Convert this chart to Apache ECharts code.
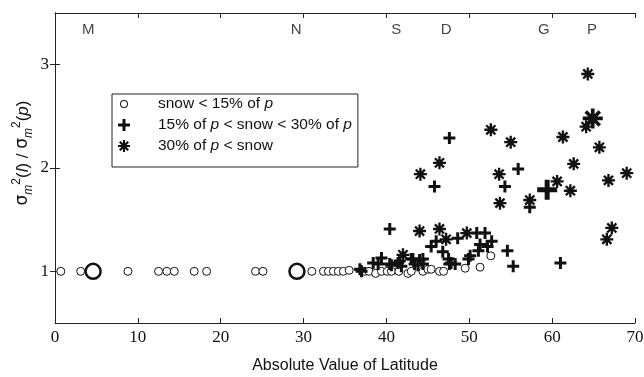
<!DOCTYPE html>
<html>
<head>
<meta charset="utf-8">
<script src="https://cdn.jsdelivr.net/npm/echarts@6/dist/echarts.min.js"></script>
<style>
  html, body { margin: 0; padding: 0; background: #fff; }
  #chart { width: 644px; height: 377px; }
</style>
</head>
<body>
<div id="chart"></div>
<script>
// site labels along the top
var siteNames = ['M', 'N', 'S', 'D', 'G', 'P'];
var siteLat = [4.0, 29.1, 41.2, 47.2, 59.0, 64.8];

// snow < 15% of p
var lowSnow = [
  [0.7, 1.0], [3.1, 1.0], [8.8, 1.0], [12.5, 1.0], [13.5, 1.0], [14.4, 1.0],
  [16.8, 1.0], [18.3, 1.0], [24.2, 1.0], [25.1, 1.0], [31.0, 1.0], [32.4, 1.0],
  [33.0, 1.0], [33.6, 1.0], [34.2, 1.0], [34.8, 1.0], [35.5, 1.01], [37.4, 1.0],
  [37.9, 1.0], [38.7, 0.98], [39.4, 1.0], [40.1, 1.0], [40.6, 1.0], [41.5, 1.0],
  [42.6, 0.98], [43.0, 1.0], [44.4, 1.0], [45.0, 1.02], [45.4, 1.02], [46.4, 1.0],
  [46.9, 1.0], [49.5, 1.03], [51.3, 1.04], [52.6, 1.15]
];
var lowSnowBig = [[4.6, 1.0], [29.2, 1.0]];

// 15% of p < snow < 30% of p
var midSnow = [
  [36.8, 1.02], [37.0, 1.0], [38.4, 1.08], [39.0, 1.07], [39.4, 1.13], [40.4, 1.07],
  [40.4, 1.41], [40.6, 1.06], [41.4, 1.08], [41.6, 1.10], [41.8, 1.05], [43.0, 1.12],
  [43.2, 1.12], [43.4, 1.07], [43.8, 1.06], [44.0, 1.11], [44.4, 1.07], [44.4, 1.12],
  [45.4, 1.24], [45.8, 1.82], [46.0, 1.29], [46.8, 1.19], [47.5, 1.12], [47.6, 1.07],
  [47.6, 2.29], [47.8, 1.08], [48.3, 1.07], [48.6, 1.32], [49.9, 1.12], [50.1, 1.15],
  [50.9, 1.37], [51.1, 1.20], [51.3, 1.26], [51.9, 1.37], [52.2, 1.24], [52.7, 1.29],
  [54.3, 1.82], [54.6, 1.20], [55.3, 1.05], [55.9, 1.99], [57.3, 1.62], [61.0, 1.08]
];
var midSnowBig = [[59.4, 1.79]];

// 30% of p < snow
var highSnow = [
  [42.0, 1.16], [44.0, 1.39], [44.1, 1.94], [46.4, 1.41], [46.4, 2.05], [47.2, 1.31],
  [49.7, 1.37], [52.6, 2.37], [53.6, 1.94], [53.7, 1.66], [55.0, 2.25], [57.3, 1.69],
  [60.6, 1.87], [61.3, 2.30], [62.2, 1.78], [62.6, 2.04], [64.1, 2.40], [64.3, 2.91],
  [65.7, 2.20], [66.6, 1.31], [66.8, 1.88], [67.2, 1.42], [69.0, 1.95]
];
var highSnowBig = [[64.9, 2.48]];

var legendNames = ['snow < 15% of p', '15% of p < snow < 30% of p', '30% of p < snow'];

var plusPath = 'path://M4.5,0H7.5V4.5H12V7.5H7.5V12H4.5V7.5H0V4.5H4.5Z';
var starPath = 'path://M8.2,0H11.8V20H8.2Z M0,8.2H20V11.8H0Z ' +
  'M4.27,1.73L18.27,15.73L15.73,18.27L1.73,4.27Z ' +
  'M15.73,1.73L18.27,4.27L4.27,18.27L1.73,15.73Z';
// small ring inside a 12x12 box, for the legend icon
var ringPath = 'path://M0,0L0.01,0Z M12,12L11.99,12Z ' +
  'M2,6A4,4 0 1,0 10,6A4,4 0 1,0 2,6Z M3,6A3,3 0 1,1 9,6A3,3 0 1,1 3,6Z';

var chart = echarts.init(document.getElementById('chart'));

var tickStyle = { inside: true, length: 5, lineStyle: { color: '#222' } };

var option = {
  animation: false,
  grid: { left: 55, right: 9, top: 13, bottom: 54, outerBoundsMode: 'none', containLabel: false },
  legend: {
    orient: 'vertical',
    left: 112,
    top: 94,
    padding: [2, 6, 13, 6],
    itemGap: 5,
    itemWidth: 12,
    itemHeight: 12,
    borderColor: '#222',
    borderWidth: 1,
    backgroundColor: '#fff',
    data: [
      { name: legendNames[0], icon: ringPath, itemStyle: { color: '#111', borderWidth: 0 } },
      { name: legendNames[1], icon: plusPath },
      { name: legendNames[2], icon: starPath }
    ],
    formatter: function (name) {
      if (name === legendNames[0]) return '{sp|}{t|snow < 15% of }{i|p}';
      if (name === legendNames[1]) return '{sp|}{t|15% of }{i|p}{t| < snow < 30% of }{i|p}';
      return '{sp|}{t|30% of }{i|p}{t| < snow}';
    },
    textStyle: {
      rich: {
        sp: { width: 23 },
        t: { fontFamily: 'Liberation Sans', fontSize: 15.5, color: '#111' },
        i: { fontFamily: 'Liberation Sans', fontSize: 15.5, fontStyle: 'italic', color: '#111' }
      }
    }
  },
  xAxis: [
    {
      type: 'value', min: 0, max: 70, interval: 10, position: 'bottom',
      axisLine: { lineStyle: { color: '#222' } },
      axisTick: tickStyle,
      splitLine: { show: false },
      name: 'Absolute Value of Latitude',
      nameLocation: 'middle', nameGap: 35,
      nameTextStyle: { fontFamily: 'Liberation Sans', fontSize: 16, color: '#111' },
      axisLabel: { fontFamily: 'Liberation Serif', fontSize: 17, color: '#111', margin: 6 }
    },
    {
      type: 'value', min: 0, max: 70, interval: 10, position: 'top',
      axisLine: { lineStyle: { color: '#222' } },
      axisTick: tickStyle,
      splitLine: { show: false },
      axisLabel: { show: false }
    }
  ],
  yAxis: [
    {
      type: 'value', min: 0.5, max: 3.5, position: 'left',
      axisLine: { lineStyle: { color: '#222' } },
      axisTick: { inside: true, length: 5, lineStyle: { color: '#222' }, customValues: [1, 2, 3] },
      splitLine: { show: false },
      axisLabel: { fontFamily: 'Liberation Serif', fontSize: 17, color: '#111', margin: 6, customValues: [1, 2, 3] },
      name: '{pad|}{g|σ}{sub|m}{sup|2}{t|(}{i|l}{t|) / }{g|σ}{sub|m}{sup|2}{t|(}{i|p}{t|)}',
      nameLocation: 'middle', nameGap: 20, nameRotate: 90, nameMoveOverlap: false,
      nameTextStyle: {
        rich: {
          pad: { width: 30, lineHeight: 24 },
          g: { fontFamily: 'DejaVu Sans', fontSize: 17, color: '#111', lineHeight: 24, verticalAlign: 'middle' },
          t: { fontFamily: 'Liberation Sans', fontSize: 17, color: '#111', lineHeight: 24, verticalAlign: 'middle' },
          i: { fontFamily: 'Liberation Sans', fontSize: 17, fontStyle: 'italic', color: '#111', lineHeight: 24, verticalAlign: 'middle' },
          sub: { fontFamily: 'Liberation Sans', fontSize: 12, fontStyle: 'italic', color: '#111', verticalAlign: 'bottom', lineHeight: 24 },
          sup: { fontFamily: 'Liberation Sans', fontSize: 12, color: '#111', verticalAlign: 'top', lineHeight: 24 }
        }
      }
    },
    {
      type: 'value', min: 0.5, max: 3.5, position: 'right',
      axisLine: { lineStyle: { color: '#222' } },
      axisTick: { inside: true, length: 5, lineStyle: { color: '#222' }, customValues: [1, 2, 3] },
      splitLine: { show: false },
      axisLabel: { show: false }
    }
  ],
  series: [
    {
      name: legendNames[0], type: 'scatter', data: lowSnow,
      symbol: 'circle', symbolSize: 8,
      itemStyle: { color: '#fff', borderColor: '#111', borderWidth: 1, opacity: 1 }
    },
    {
      name: legendNames[0], type: 'scatter', data: lowSnowBig,
      symbol: 'circle', symbolSize: 15,
      itemStyle: { color: '#fff', borderColor: '#111', borderWidth: 2.5, opacity: 1 }
    },
    {
      name: legendNames[1], type: 'scatter', data: midSnow,
      symbol: plusPath, symbolSize: 12,
      itemStyle: { color: '#111', opacity: 1 }
    },
    {
      name: legendNames[1], type: 'scatter', data: midSnowBig,
      symbol: plusPath, symbolSize: 20,
      itemStyle: { color: '#111', opacity: 1 }
    },
    {
      name: legendNames[2], type: 'scatter', data: highSnow,
      symbol: starPath, symbolSize: 13,
      itemStyle: { color: '#111', opacity: 1 }
    },
    {
      name: legendNames[2], type: 'scatter', data: highSnowBig,
      symbol: starPath, symbolSize: 20,
      itemStyle: { color: '#111', opacity: 1 }
    },
    {
      name: 'sites', type: 'scatter', silent: true,
      symbolSize: 0,
      data: siteLat.map(function (x, i) { return [x, 3.34, siteNames[i]]; }),
      label: {
        show: true, position: 'inside',
        formatter: function (p) { return p.value[2]; },
        fontFamily: 'Liberation Sans', fontSize: 15, color: '#111'
      }
    }
  ]
};

chart.setOption(option);
</script>
</body>
</html>
